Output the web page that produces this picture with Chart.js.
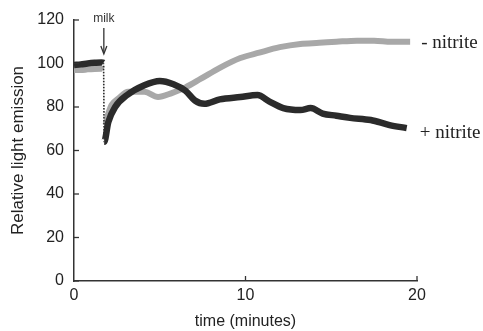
<!DOCTYPE html>
<html>
<head>
<meta charset="utf-8">
<script src="https://cdn.jsdelivr.net/npm/chart.js@4.4.0/dist/chart.umd.min.js"></script>
<style>
  html, body { margin: 0; padding: 0; background: #fff; }
  #wrap { width: 483px; height: 331px; }
</style>
</head>
<body>
<div id="wrap"><canvas id="lightChart"></canvas></div>
<script>
// + nitrite (dark trace)
const plusTimes  = [0, 0.4, 0.8, 1.2, 1.6, 1.72, 1.76, 2.0, 2.4, 3.1, 4.1, 5.0, 5.8, 6.5, 7.05, 7.6, 8.5, 9.7, 10.7, 11.4, 12.2, 13.2, 13.8, 14.5, 15.3, 16.1, 17.3, 18.4, 19.4];
const plusValues = [99.3, 99.6, 100, 100.3, 100.5, 100.3, 64, 73, 80, 85.5, 90, 92, 90.5, 87.5, 83, 81.5, 83.5, 84.6, 85.5, 82.5, 79.5, 78.6, 79.5, 77, 76, 75, 74, 71.7, 70.3];

// - nitrite (grey trace)
const minusTimes  = [0, 0.4, 0.8, 1.2, 1.6, 1.72, 1.78, 2.0, 2.2, 2.6, 3.15, 4.1, 4.9, 5.7, 6.5, 7.4, 8.5, 9.7, 10.8, 12.0, 13.2, 14.3, 15.3, 16.5, 17.5, 18.5, 19.6];
const minusValues = [97, 97, 97.3, 97.5, 97.6, 97.4, 71, 77, 81, 84, 87, 87, 84.6, 86.4, 89, 93, 98, 102.5, 105, 107.5, 109, 109.5, 110, 110.5, 110.5, 110, 110];

const yTicks = [0, 20, 40, 60, 80, 100, 120];
const xTicks = [0, 10, 20];
const milkTime = 1.74;

function toPoints(ts, vs) {
    return ts.map((t, i) => ({ x: t, y: vs[i] }));
}

// the drop at milk addition is drawn as a thin dotted line
function dropSegment(thin, thick) {
    return ctx => (ctx.p0.parsed.y - ctx.p1.parsed.y > 15) ? thin : thick;
}

const decorPlugin = {
    id: 'decor',
    afterDatasetsDraw(chart) {
        const ctx = chart.ctx;
        const xs = chart.scales.x;
        const ys = chart.scales.y;
        const ax = xs.getPixelForValue(0);
        const ay = ys.getPixelForValue(0);
        ctx.save();
        ctx.strokeStyle = '#333';
        ctx.lineWidth = 1.3;
        // inward ticks
        yTicks.forEach(v => {
            const py = ys.getPixelForValue(v);
            ctx.beginPath();
            ctx.moveTo(ax, py);
            ctx.lineTo(ax + 5, py);
            ctx.stroke();
        });
        xTicks.slice(1).forEach(v => {
            const px = xs.getPixelForValue(v);
            ctx.beginPath();
            ctx.moveTo(px, ay);
            ctx.lineTo(px, ay - 5);
            ctx.stroke();
        });

        // milk arrow
        const mx = xs.getPixelForValue(milkTime);
        const top = ys.getPixelForValue(120);
        ctx.fillStyle = '#333';
        ctx.font = '12px "Liberation Sans", Arial, sans-serif';
        ctx.textAlign = 'center';
        ctx.textBaseline = 'middle';
        ctx.fillText('milk', mx, top - 1);
        ctx.beginPath();
        ctx.moveTo(mx, top + 8);
        ctx.lineTo(mx, top + 33);
        ctx.stroke();
        ctx.beginPath();
        ctx.moveTo(mx - 3, top + 26);
        ctx.lineTo(mx, top + 34);
        ctx.lineTo(mx + 3, top + 26);
        ctx.stroke();

        // series labels
        ctx.font = '19px "Liberation Serif", "Times New Roman", serif';
        ctx.textAlign = 'left';
        ctx.fillStyle = '#222';
        const gx = xs.getPixelForValue(minusTimes[minusTimes.length - 1]);
        const gy = ys.getPixelForValue(minusValues[minusValues.length - 1]);
        ctx.fillText('- nitrite', gx + 11, gy + 1);
        const bx = xs.getPixelForValue(plusTimes[plusTimes.length - 1]);
        const by = ys.getPixelForValue(plusValues[plusValues.length - 1]);
        ctx.fillText('+ nitrite', bx + 13, by + 5);
        ctx.restore();
    }
};

new Chart(document.getElementById('lightChart'), {
    type: 'line',
    data: {
        datasets: [{
            label: '+ nitrite',
            data: toPoints(plusTimes, plusValues),
            borderColor: '#2b2b2b',
            borderWidth: 6.5,
            pointRadius: 0,
            cubicInterpolationMode: 'monotone',
            segment: {
                borderWidth: dropSegment(1.5, 6.5),
                borderDash: dropSegment([1.5, 1.5], [])
            }
        }, {
            label: '- nitrite',
            data: toPoints(minusTimes, minusValues),
            borderColor: '#a8a8a8',
            borderWidth: 6,
            pointRadius: 0,
            cubicInterpolationMode: 'monotone',
            segment: {
                borderWidth: dropSegment(1.2, 6),
                borderDash: dropSegment([1.5, 1.5], [])
            }
        }]
    },
    options: {
        responsive: true,
        maintainAspectRatio: false,
        animation: false,
        layout: { padding: { top: 20, right: 66, left: 0, bottom: 0 } },
        plugins: {
            legend: { display: false },
            tooltip: { enabled: false }
        },
        scales: {
            x: {
                type: 'linear',
                min: 0,
                max: 20,
                afterFit: scale => { scale.height = 50; },
                afterBuildTicks: scale => { scale.ticks = xTicks.map(v => ({ value: v })); },
                grid: { display: true, drawOnChartArea: false, drawTicks: false },
                border: { display: true, color: '#333', width: 1.5 },
                ticks: {
                    padding: 5,
                    color: '#222',
                    font: { family: '"Liberation Sans", Arial, sans-serif', size: 16 }
                },
                title: {
                    display: true,
                    text: 'time (minutes)',
                    color: '#222',
                    padding: { top: 0, bottom: 0 },
                    font: { family: '"Liberation Sans", Arial, sans-serif', size: 16 }
                }
            },
            y: {
                min: 0,
                max: 120,
                afterFit: scale => { scale.width = 74; },
                afterBuildTicks: scale => { scale.ticks = yTicks.map(v => ({ value: v })); },
                grid: { display: true, drawOnChartArea: false, drawTicks: false },
                border: { display: true, color: '#333', width: 1.5 },
                ticks: {
                    padding: 10,
                    color: '#222',
                    font: { family: '"Liberation Sans", Arial, sans-serif', size: 16 }
                },
                title: {
                    display: true,
                    text: 'Relative light emission',
                    color: '#222',
                    padding: { top: 8, bottom: 0 },
                    font: { family: '"Liberation Sans", Arial, sans-serif', size: 17 }
                }
            }
        }
    },
    plugins: [decorPlugin]
});
</script>
</body>
</html>
